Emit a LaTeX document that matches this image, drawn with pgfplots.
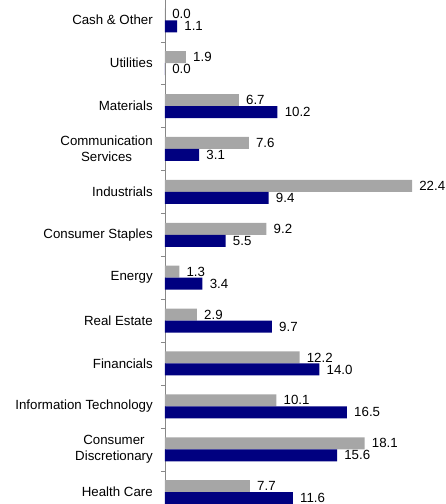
\documentclass[border=0pt]{standalone}
\usepackage{pgfplots}
\pgfplotsset{compat=1.18}
\usepackage{fontspec}
\setmainfont{Liberation Sans}
\definecolor{bargray}{RGB}{166,166,166}
\definecolor{barnavy}{RGB}{0,0,128}
\definecolor{axgray}{RGB}{136,136,136}
\begin{document}
\begin{tikzpicture}
\path[use as bounding box] (-123.75bp,7.2bp) rectangle (210.75bp,385.2bp);
\begin{axis}[
  at={(0,0)}, anchor=south west,
  scale only axis,
  width=206.8bp, height=386.1bp,
  xmin=0, xmax=25,
  ymin=-0.5, ymax=11.5,
  y dir=reverse,
  xbar, bar width=9bp,
  axis x line=none,
  axis y line*=left,
  y axis line style={-, draw=axgray},
  ytick={0,...,11},
  yticklabels={Cash \& Other,Utilities,Materials,{Communication\\Services},Industrials,Consumer Staples,Energy,Real Estate,Financials,Information Technology,{Consumer\\Discretionary},Health Care},
  yticklabel style={font=\fontsize{10}{11.7}\selectfont, align=center, inner sep=0pt, xshift=-9bp},
  major tick length=0pt,
  minor ytick={0.5,1.5,...,10.5},
  minor tick length=3bp,
  tick align=outside,
  minor tick style={draw=axgray},
  clip=false,
  nodes near coords,
  nodes near coords style={anchor=west, inner sep=0pt, xshift=5.25bp, font=\fontsize{10}{12}\selectfont, /pgf/number format/.cd, fixed, fixed zerofill, precision=1, assume math mode=true},
]
\addplot[fill=bargray, draw=none, bar shift=4.5bp] coordinates {
(0.0,0) (1.9,1) (6.7,2) (7.6,3) (22.4,4) (9.2,5) (1.3,6) (2.9,7) (12.2,8) (10.1,9) (18.1,10) (7.7,11)};
\addplot[fill=barnavy, draw=none, bar shift=-4.5bp] coordinates {
(1.1,0) (0.0,1) (10.2,2) (3.1,3) (9.4,4) (5.5,5) (3.4,6) (9.7,7) (14.0,8) (16.5,9) (15.6,10) (11.6,11)};
\end{axis}
\end{tikzpicture}
\end{document}
